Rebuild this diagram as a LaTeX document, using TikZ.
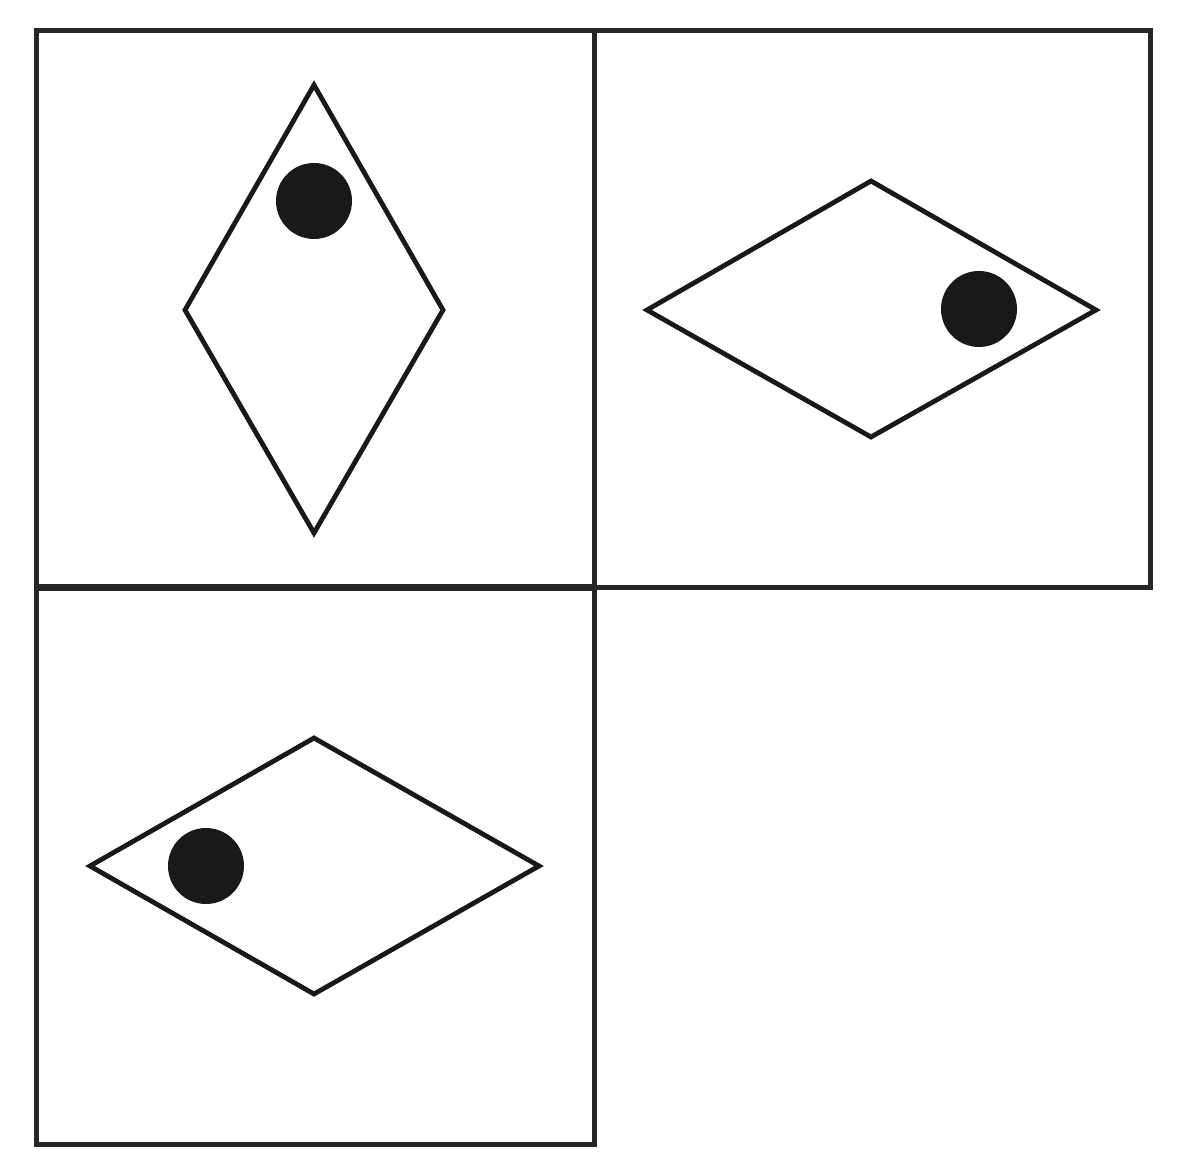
\documentclass[tikz,border=0pt]{standalone}
\begin{document}
\begin{tikzpicture}[x=0.5pt,y=-0.5pt,
  frame/.style={draw=black!85,line width=2.5pt},
  rhomb/.style={draw=black!90,line width=2.4pt,line join=miter},
  dot/.style={fill=black!90}]
\useasboundingbox (0,0) rectangle (1180,1176);
% frames
\draw[frame] (36,31) rectangle (594,587);
\draw[frame] (594,31) rectangle (1150,588);
\draw[frame] (36,589) rectangle (594,1144);
% diamond 1 (vertical)
\draw[rhomb] (314,85) -- (443,310) -- (314,533) -- (185,310) -- cycle;
\fill[dot] (314,201) circle (38);
% diamond 2 (horizontal)
\draw[rhomb] (647,310) -- (871,181) -- (1096,310) -- (871,437) -- cycle;
\fill[dot] (979,309) circle (38);
% diamond 3 (horizontal)
\draw[rhomb] (90,866) -- (314,738) -- (539,866) -- (314,994) -- cycle;
\fill[dot] (206,866) circle (38);
\end{tikzpicture}
\end{document}
